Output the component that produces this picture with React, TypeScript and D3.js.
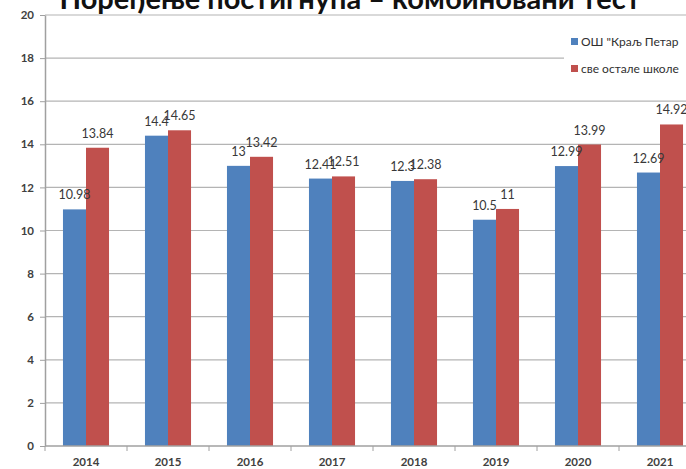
import React, { useEffect, useRef } from 'react';
import * as d3 from 'd3';

const years = ['2014', '2015', '2016', '2017', '2018', '2019', '2020', '2021'];
const schoolValues = [10.98, 14.4, 13, 12.41, 12.3, 10.5, 12.99, 12.69];
const otherValues = [13.84, 14.65, 13.42, 12.51, 12.38, 11, 13.99, 14.92];
const seriesNames = ['ОШ "Краљ Петар', 'све остале школе'];
const seriesColors = ['#4F81BD', '#C0504D'];
const yTicks = [0, 2, 4, 6, 8, 10, 12, 14, 16, 18, 20];
const title = 'Поређење постигнућа – комбиновани тест';

const App = () => {
  const svgRef = useRef<SVGSVGElement>(null);

  useEffect(() => {
    const svg = d3.select(svgRef.current);
    svg.selectAll('*').remove();

    const width = 686;
    const height = 469;
    const marginTop = 15;
    const marginLeft = 45;
    const marginBottom = 23;
    const step = 82;

    const x0 = d3.scaleBand<string>()
      .domain(years)
      .range([marginLeft, marginLeft + step * years.length])
      .padding(0);
    const x1 = d3.scaleBand<number>()
      .domain([0, 1])
      .range([0, x0.bandwidth()])
      .paddingInner(0)
      .paddingOuter(0.78);
    const y = d3.scaleLinear([0, 20], [height - marginBottom, marginTop]);

    const font = 'Lato, "Open Sans", sans-serif';

    // gridlines
    svg.append('g')
      .selectAll('line')
      .data(yTicks.filter(t => t > 0))
      .join('line')
      .attr('x1', marginLeft)
      .attr('x2', width)
      .attr('y1', d => y(d))
      .attr('y2', d => y(d))
      .attr('stroke', '#b4b4b4')
      .attr('stroke-width', 1.2);

    // bars
    const data = years.map((yr, i) => ({ yr, vals: [schoolValues[i], otherValues[i]] }));
    const groups = svg.append('g')
      .selectAll('g')
      .data(data)
      .join('g')
      .attr('transform', d => `translate(${x0(d.yr)},0)`);

    groups.selectAll('rect')
      .data(d => d.vals.map((v, k) => ({ v, k })))
      .join('rect')
      .attr('x', d => x1(d.k)!)
      .attr('width', x1.bandwidth())
      .attr('y', d => y(d.v))
      .attr('height', d => y(0) - y(d.v))
      .attr('fill', d => seriesColors[d.k]);

    groups.selectAll('text')
      .data(d => d.vals.map((v, k) => ({ v, k })))
      .join('text')
      .attr('x', d => x1(d.k)! + x1.bandwidth() / 2)
      .attr('y', d => y(d.v) - 10)
      .attr('text-anchor', 'middle')
      .attr('font-family', font)
      .attr('font-size', 12.5)
      .attr('fill', '#383838')
      .text(d => String(d.v));

    // y axis
    svg.append('g')
      .attr('transform', `translate(${marginLeft},0)`)
      .call(d3.axisLeft(y).tickValues(yTicks).tickSize(5).tickSizeOuter(0).tickPadding(6))
      .call(g => g.selectAll('line').attr('stroke', '#a0a0a0'))
      .call(g => g.select('.domain').attr('stroke', '#a0a0a0').attr('stroke-width', 1.5))
      .call(g => g.selectAll('text')
        .attr('font-family', font)
        .attr('font-size', 11.5)
        .attr('font-weight', 'bold')
        .attr('fill', '#404040'));

    // x axis
    const xAxis = svg.append('g')
      .attr('transform', `translate(0,${y(0)})`);
    xAxis.append('line')
      .attr('x1', marginLeft)
      .attr('x2', width)
      .attr('stroke', '#a0a0a0')
      .attr('stroke-width', 1.5);
    xAxis.selectAll('line.tick')
      .data(years)
      .join('line')
      .attr('class', 'tick')
      .attr('x1', d => x0(d)!)
      .attr('x2', d => x0(d)!)
      .attr('y1', 0)
      .attr('y2', 5)
      .attr('stroke', '#a0a0a0');
    xAxis.selectAll('text')
      .data(years)
      .join('text')
      .attr('x', d => x0(d)! + x0.bandwidth() / 2)
      .attr('y', 20)
      .attr('text-anchor', 'middle')
      .attr('font-family', font)
      .attr('font-size', 11.5)
      .attr('font-weight', 'bold')
      .attr('fill', '#404040')
      .text(d => d);

    // legend
    const legend = svg.append('g').attr('transform', 'translate(564,30)');
    legend.append('rect')
      .attr('width', 130)
      .attr('height', 56)
      .attr('fill', 'white');
    seriesNames.forEach((name, i) => {
      const row = legend.append('g').attr('transform', `translate(7,${8 + i * 27})`);
      row.append('rect').attr('width', 7).attr('height', 7).attr('fill', seriesColors[i]);
      row.append('text')
        .attr('x', 10)
        .attr('y', 8)
        .attr('font-family', font)
        .attr('font-size', 12)
        .attr('fill', '#303030')
        .text(name);
    });

    // title (cut off at top)
    svg.append('text')
      .attr('x', 350)
      .attr('y', 9)
      .attr('text-anchor', 'middle')
      .attr('font-family', font)
      .attr('font-size', 29)
      .attr('font-weight', 'bold')
      .attr('fill', '#111')
      .text(title);
  }, []);

  return (
    <svg
      ref={svgRef}
      width={686}
      height={469}
      viewBox="0 0 686 469"
      style={{ position: 'absolute', left: 0, top: 0, background: 'white' }}
    />
  );
};

export default App;
